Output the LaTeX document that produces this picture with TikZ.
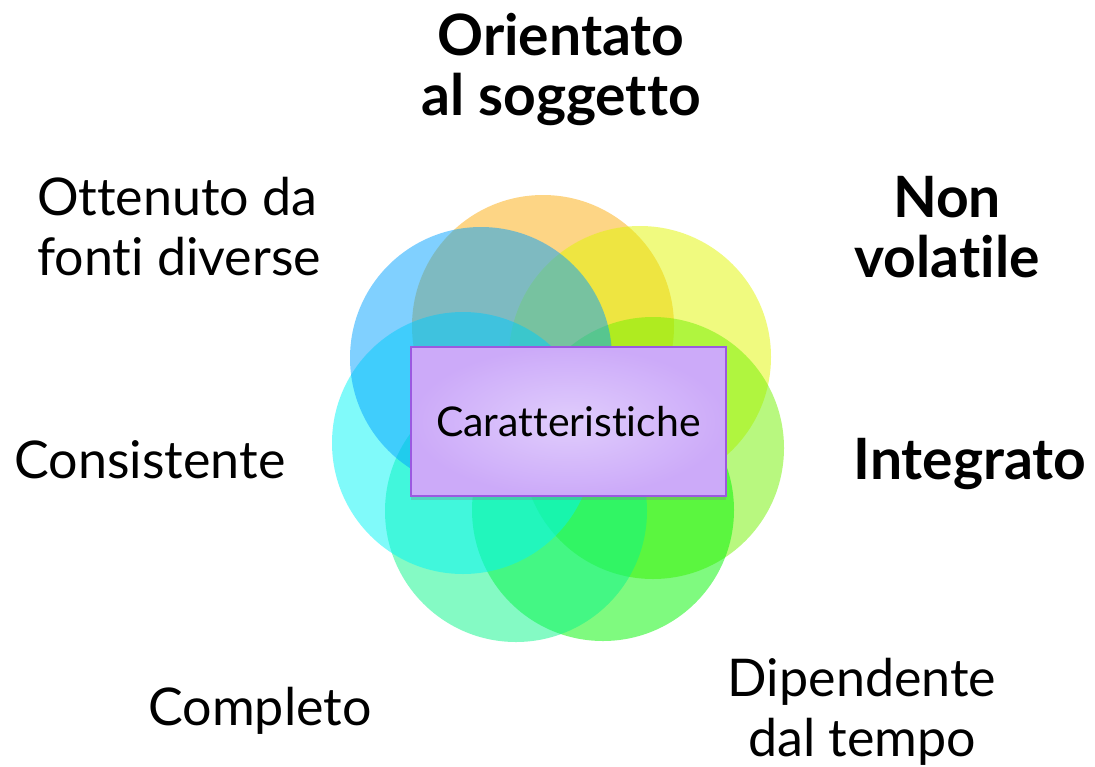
\documentclass[tikz,border=0pt]{standalone}
\usepackage{fontspec}
\setmainfont{Lato}[Ligatures=NoCommon]
\definecolor{pOrange}{RGB}{251,171,11}
\definecolor{pYellow}{RGB}{225,245,0}
\definecolor{pLime}{RGB}{113,241,0}
\definecolor{pGreen}{RGB}{0,245,0}
\definecolor{pMint}{RGB}{9,245,137}
\definecolor{pCyan}{RGB}{1,245,245}
\definecolor{pBlue}{RGB}{1,161,255}
\definecolor{boxin}{RGB}{224,205,252}
\definecolor{boxout}{RGB}{204,170,249}
\definecolor{boxline}{RGB}{155,89,224}
\usetikzlibrary{shadows}
\tikzset{
    petal/.style={circle, minimum size=262pt, inner sep=0pt, fill opacity=0.5},
    featbox/.style={draw=boxline, line width=1.3pt, shade, inner color=boxin, outer color=boxout,
        minimum width=315pt, minimum height=149pt,
        drop shadow={opacity=0.3, shadow xshift=0pt, shadow yshift=-4pt},
        font=\fontsize{41}{44}\selectfont},
    feat/.style={inner sep=0pt, font=\fontsize{52}{60}\selectfont},
    featbold/.style={inner sep=0pt, font=\fontsize{57}{60}\selectfont\bfseries}
}
\begin{document}
\begin{tikzpicture}[x=1pt, y=-1pt]
	\useasboundingbox (0,0) rectangle (1095,766);
	
	% petals
	\node[petal, fill=pOrange] (p1) at (543,326) {};
	\node[petal, fill=pYellow] (p2) at (640,357) {};
	\node[petal, fill=pLime] (p3) at (653,448) {};
	\node[petal, fill=pGreen] (p4) at (603,510) {};
	\node[petal, fill=pMint] (p5) at (516,511) {};
	\node[petal, fill=pCyan] (p6) at (463,443) {};
	\node[petal, fill=pBlue] (p7) at (481,358) {};
	
	\node[featbox] (car) at (568.5,421.5) {Caratteristiche};
	
	% labels
	\node[featbold, align=center] (sogg) at (561,70) {Orientato\\al soggetto};
	\node[feat, align=left, anchor=west] (fonti) at (37,227) {Ottenuto da\\fonti diverse};
	\node[featbold, align=center] (nonvol) at (947,227) {Non\\volatile};
	\node[feat, anchor=base] (cons) at (150,478) {Consistente};
	\node[featbold, anchor=base] (integ) at (970,479) {Integrato};
	\node[feat, anchor=base] (compl) at (260,725) {Completo};
	\node[feat, align=center] (tempo) at (862,712) {Dipendente\\dal tempo};
\end{tikzpicture}
\end{document}
